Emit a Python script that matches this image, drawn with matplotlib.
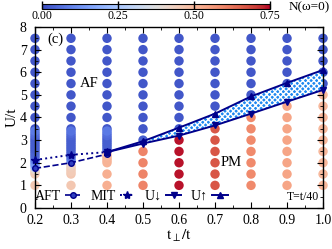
import matplotlib
matplotlib.use("Agg")
import matplotlib.pyplot as plt
import numpy as np

plt.rcParams['font.family'] = ['Liberation Serif', 'DejaVu Serif']
plt.rcParams['mathtext.fontset'] = 'stix'
plt.rcParams['hatch.linewidth'] = 1.0

# hopping ratio columns
tperp = [0.2, 0.3, 0.4, 0.5, 0.6, 0.7, 0.8, 0.9, 1.0]
# regular U grid of the scan
U_grid = [1.0, 1.5, 2.0, 2.5, 3.0, 3.5, 4.0, 4.5, 5.0, 5.5, 6.0, 6.5, 7.0, 7.5]
# N(w=0) on the regular grid, one list per column
N_02 = [0.46, 0.45, 0.12, 0.03, 0.02, 0.02, 0.02, 0.02, 0.02, 0.02, 0.02, 0.02, 0.02, 0.02]
N_03 = [0.46, 0.46, 0.30, 0.05, 0.02, 0.02, 0.02, 0.02, 0.02, 0.02, 0.02, 0.02, 0.02, 0.02]
N_04 = [0.52, 0.52, 0.51, 0.08, 0.03, 0.02, 0.02, 0.02, 0.02, 0.02, 0.02, 0.02, 0.02, 0.02]
N_05 = [0.60, 0.60, 0.60, 0.60, 0.03, 0.02, 0.02, 0.02, 0.02, 0.02, 0.02, 0.02, 0.02, 0.02]
N_06 = [0.74, 0.74, 0.74, 0.74, 0.74, 0.02, 0.02, 0.02, 0.02, 0.02, 0.02, 0.02, 0.02, 0.02]
N_07 = [0.67, 0.67, 0.67, 0.67, 0.67, 0.67, 0.02, 0.02, 0.02, 0.02, 0.02, 0.02, 0.02, 0.02]
N_08 = [0.59, 0.59, 0.59, 0.59, 0.59, 0.59, 0.59, 0.02, 0.02, 0.02, 0.02, 0.02, 0.02, 0.02]
N_09 = [0.54, 0.54, 0.54, 0.54, 0.54, 0.54, 0.54, 0.54, 0.02, 0.02, 0.02, 0.02, 0.02, 0.02]
N_10 = [0.50, 0.50, 0.50, 0.50, 0.50, 0.50, 0.50, 0.50, 0.50, 0.02, 0.02, 0.02, 0.02, 0.02]
N_cols = [N_02, N_03, N_04, N_05, N_06, N_07, N_08, N_09, N_10]

# finer U sweeps near the transition at small t_perp
fine_x = [0.2, 0.3, 0.4]
fine_U_02 = [1.6, 1.7, 1.8, 1.9, 2.1, 2.2, 2.3, 2.4, 2.6, 2.7, 2.8, 2.9, 3.1, 3.2, 3.3, 3.4]
fine_N_02 = [0.44, 0.40, 0.22, 0.14, 0.10, 0.07, 0.05, 0.04, 0.03, 0.03, 0.03, 0.03, 0.03, 0.05, 0.06, 0.08]
fine_U_03 = [1.6, 1.7, 1.8, 1.9, 2.1, 2.2, 2.3, 2.4, 2.6, 2.7, 2.8, 2.9, 3.1, 3.2, 3.3, 3.4]
fine_N_03 = [0.45, 0.45, 0.44, 0.42, 0.12, 0.08, 0.05, 0.04, 0.03, 0.03, 0.03, 0.03, 0.03, 0.04, 0.05, 0.07]
fine_U_04 = [2.1, 2.2, 2.3, 2.4, 2.6, 2.7, 2.8, 2.9, 3.1, 3.2, 3.3, 3.4]
fine_N_04 = [0.51, 0.51, 0.50, 0.48, 0.05, 0.04, 0.03, 0.03, 0.03, 0.05, 0.06, 0.08]
fine_U = [fine_U_02, fine_U_03, fine_U_04]
fine_N = [fine_N_02, fine_N_03, fine_N_04]

# transition lines
aft_x = [0.2, 0.3, 0.4]
aft_U = [1.75, 2.0, 2.38]
mit_x = [0.2, 0.3, 0.4]
mit_U = [2.12, 2.35, 2.47]
band_x = [0.4, 0.5, 0.6, 0.7, 0.8, 0.9, 1.0]
U_down = [2.47, 2.85, 3.2, 3.65, 4.17, 4.7, 5.22]
U_up = [2.47, 2.95, 3.55, 4.17, 4.93, 5.53, 6.1]

navy = '#00008b'
cmap = plt.get_cmap('coolwarm')

fig = plt.figure(figsize=(3.32, 2.49), dpi=100)
ax = fig.add_axes([0.1054, 0.1647, 0.8676, 0.7269])

for x, N in zip(tperp, N_cols):
    sc = ax.scatter([x] * len(U_grid), U_grid, c=N, cmap=cmap, vmin=0, vmax=0.75,
                    s=46, linewidths=0, zorder=1, clip_on=False)
for x, U, N in zip(fine_x, fine_U, fine_N):
    ax.scatter([x] * len(U), U, c=N, cmap=cmap, vmin=0, vmax=0.75,
               s=46, linewidths=0, zorder=1, clip_on=False)

ax.fill_between(band_x, U_down, U_up, facecolor='#1e88f0', edgecolor='white',
                hatch='xxxxxx', linewidth=0, zorder=2)

l_aft, = ax.plot(aft_x, aft_U, '--', color=navy, lw=1.2, marker='o', ms=4,
                 mfc='#3040c0', mec=navy, mew=1.0, zorder=3, clip_on=False)
l_mit, = ax.plot(mit_x, mit_U, ':', color=navy, lw=1.4, marker='*', ms=6,
                 mfc=navy, mec=navy, zorder=3, clip_on=False)
l_dn, = ax.plot(band_x, U_down, '-', color=navy, lw=1.4, marker='v', ms=5,
                mfc=navy, mec=navy, zorder=3, clip_on=False)
l_up, = ax.plot(band_x, U_up, '-', color=navy, lw=1.4, marker='^', ms=5,
                mfc=navy, mec=navy, zorder=3, clip_on=False)

ax.set_xlim(0.2, 1.0)
ax.set_ylim(0, 8)
ax.set_xticks(tperp)
ax.set_xticklabels(['0.2', '0.3', '0.4', '0.5', '0.6', '0.7', '0.8', '0.9', '1.0'])
ax.set_xticks(np.arange(0.25, 1.0, 0.1), minor=True)
ax.set_yticks(range(0, 9))
ax.set_yticks(np.arange(0.5, 8, 1.0), minor=True)
ax.tick_params(which='both', direction='in', top=True, right=True, labelsize=10, pad=4)
ax.tick_params(axis='y', which='major', pad=6)
ax.tick_params(which='major', length=4)
ax.tick_params(which='minor', length=2.5)
for sp in ax.spines.values():
    sp.set_linewidth(1.0)

ax.set_xlabel(r'$\mathrm{t}_{\perp}/\mathrm{t}$', fontsize=11, labelpad=1)
ax.set_ylabel('U/t', fontsize=11, labelpad=1)

ax.text(0.235, 7.45, '(c)', fontsize=10.5, va='center', ha='left', zorder=5)
ax.text(0.325, 5.5, 'AF', fontsize=10.5, va='center', ha='left', zorder=5)
ax.text(0.715, 2.0, 'PM', fontsize=10.5, va='center', ha='left', zorder=5)
ax.text(0.99, 0.5, 'T=t/40', fontsize=8.5, va='center', ha='right', zorder=5)

ax.legend([l_aft, l_mit, l_dn, l_up], ['AFT', 'MIT', 'U\u2193', 'U\u2191'],
          loc='center left', bbox_to_anchor=(0.0, 0.0625), ncol=4, frameon=False,
          markerfirst=False, fontsize=10, handlelength=1.1, handletextpad=0.3,
          columnspacing=0.7, borderpad=0, borderaxespad=0)

# colorbar on top
cax = fig.add_axes([0.127, 0.964, 0.686, 0.02])
cb = fig.colorbar(sc, cax=cax, orientation='horizontal')
cb.set_ticks([0.0, 0.25, 0.5, 0.75])
cb.set_ticklabels(['0.00', '0.25', '0.50', '0.75'])
cb.ax.tick_params(direction='in', length=6, width=1.0, labelsize=8.5, pad=1, colors='black')
cb.outline.set_linewidth(0.8)
fig.text(0.995, 0.972, 'N(\u03c9=0)', fontsize=9.5, ha='right', va='center')

fig.savefig('out.png', dpi=100)
